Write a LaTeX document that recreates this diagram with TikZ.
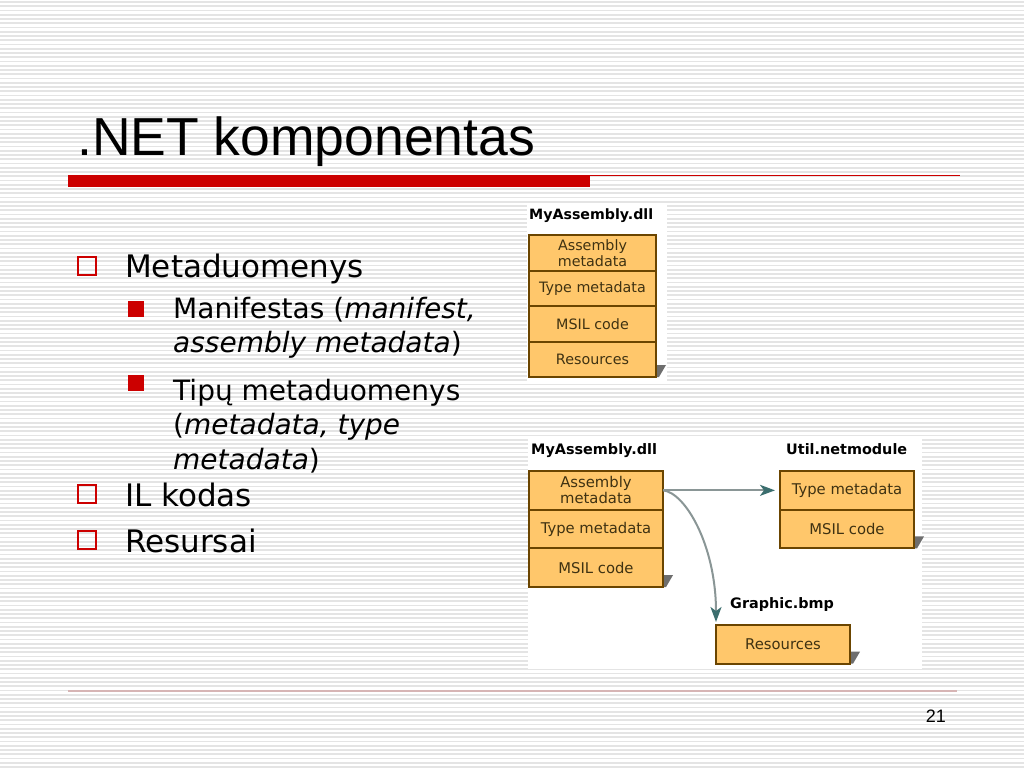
\documentclass[tikz,border=0pt]{standalone}
\usepackage{fontspec}
\setmainfont{DejaVu Sans}
\newfontfamily\titlefont{Liberation Sans}
\usepackage{tikz}
\usetikzlibrary{calc,arrows.meta}
\definecolor{slidered}{HTML}{CC0000}
\definecolor{stripegray}{HTML}{E4E4E4}
\definecolor{boxfill}{HTML}{FFC76B}
\definecolor{boxline}{HTML}{6B4500}
\definecolor{boxtext}{HTML}{3F3212}
\definecolor{shadegray}{HTML}{6E6E6E}
\definecolor{linkgray}{HTML}{8A9696}
\definecolor{linkhead}{HTML}{3B6E6E}
\definecolor{footline}{HTML}{D6B4B4}
\newcommand\hollowbullet[2]{
  \draw[slidered, line width=2.5pt] (#1,#2) rectangle ++(18,18);
}
\newcommand\solidbullet[2]{
  \fill[slidered] (#1,#2) rectangle ++(16,16);
}
\newcommand\cornershade[1]{
  \fill[shadegray] ($ (#1.south east) + (1,-12) $) -- ++(9,0) -- ($ (#1.south east) + (3,0) $) -- ($ (#1.south east) + (1,0) $) -- cycle;
}
\begin{document}
\begin{tikzpicture}[x=1pt, y=-1pt,
    stripe/.style={stripegray, line width=1.6pt},
    cell/.style={draw=boxline, fill=boxfill, line width=2pt, text=boxtext, inner sep=0pt, outer sep=0pt, align=center},
    topcell/.style={cell, minimum width=127pt, minimum height=35.5pt, font=\fontsize{14.3}{16}\selectfont},
    botcell/.style={cell, minimum width=134pt, minimum height=38.7pt, font=\fontsize{14.8}{16}\selectfont},
    filename/.style={anchor=base west, inner sep=0pt, font=\bfseries\fontsize{14.4}{16}\selectfont},
    bodytext/.style={anchor=base west, inner sep=0pt, font=\fontsize{31}{36}\selectfont},
    subtext/.style={anchor=base west, inner sep=0pt, font=\fontsize{28}{34}\selectfont},
    link/.style={linkgray, line width=2pt, -{Stealth[length=15pt, width=11pt, inset=4pt, color=linkhead]}}]
  \useasboundingbox (0,0) rectangle (1024,768);
  \fill[white] (0,0) rectangle (1024,768);
  \foreach \y in {2,6.25,...,768}
    \draw[stripe] (0,\y) -- (1024,\y);

  % title
  \node[anchor=base west, inner sep=0pt, font=\titlefont\fontsize{53.5}{60}\selectfont] (title) at (77,155) {.NET komponentas};
  \fill[slidered] (68,175) rectangle (590,187);
  \draw[slidered, line width=1.2pt] (590,175.5) -- (960,175.5);

  % bullets
  \hollowbullet{78}{257}
  \solidbullet{128}{301}
  \solidbullet{128}{375}
  \hollowbullet{78}{485}
  \hollowbullet{78}{531}

  \node[bodytext] (meta) at (125,277) {Metaduomenys};
  \node[subtext] (manifA) at (173,318) {Manifestas (\textit{manifest,}};
  \node[subtext] (manifB) at (173,352.5) {\textit{assembly metadata})};
  \node[subtext] (tipA) at (173,400) {Tipų metaduomenys};
  \node[subtext] (tipB) at (173,434.5) {(\textit{metadata, type}};
  \node[subtext] (tipC) at (173,469) {\textit{metadata})};
  \node[bodytext] (ilcode) at (125,506) {IL kodas};
  \node[bodytext] (resursai) at (125,552) {Resursai};

  % single file assembly
  \fill[white] (527,205) rectangle (667,382);
  \node[filename, font=\bfseries\fontsize{14.2}{16}\selectfont] (tfile) at (529,219) {MyAssembly.dll};
  \node[topcell, anchor=north] (tmeta) at (592.5,235) {Assembly\\metadata};
  \node[topcell, anchor=north] (ttype) at (tmeta.south) {Type metadata};
  \node[topcell, anchor=north] (tmsil) at (ttype.south) {MSIL code};
  \node[topcell, anchor=north] (tres) at (tmsil.south) {Resources};
  \cornershade{tres}

  % multi file assembly
  \fill[white] (528,438) rectangle (922,669);
  \node[filename] (bfile) at (531,454) {MyAssembly.dll};
  \node[botcell, anchor=north] (bmeta) at (596,471) {Assembly\\metadata};
  \node[botcell, anchor=north] (btype) at (bmeta.south) {Type metadata};
  \node[botcell, anchor=north] (bmsil) at (btype.south) {MSIL code};
  \cornershade{bmsil}

  \node[filename] (ufile) at (786,454) {Util.netmodule};
  \node[botcell, anchor=north] (utype) at (847,471) {Type metadata};
  \node[botcell, anchor=north] (umsil) at (utype.south) {MSIL code};
  \cornershade{umsil}

  \node[filename] (gfile) at (730,608) {Graphic.bmp};
  \node[botcell, anchor=north] (gres) at (783,625) {Resources};
  \cornershade{gres}

  \draw[link] (bmeta.east) -- ($ (utype.west) + (-5,0) $);
  \draw[link] (bmeta.east) .. controls +(22,2) and +(0,-77) .. ($ (gres.north west) + (0,-3) $);

  % footer
  \draw[footline, line width=1.5pt] (68,691) -- (957,691);
  \node[anchor=base east, inner sep=0pt, font=\titlefont\fontsize{18}{20}\selectfont] (pagenum) at (946,722) {21};
\end{tikzpicture}
\end{document}
